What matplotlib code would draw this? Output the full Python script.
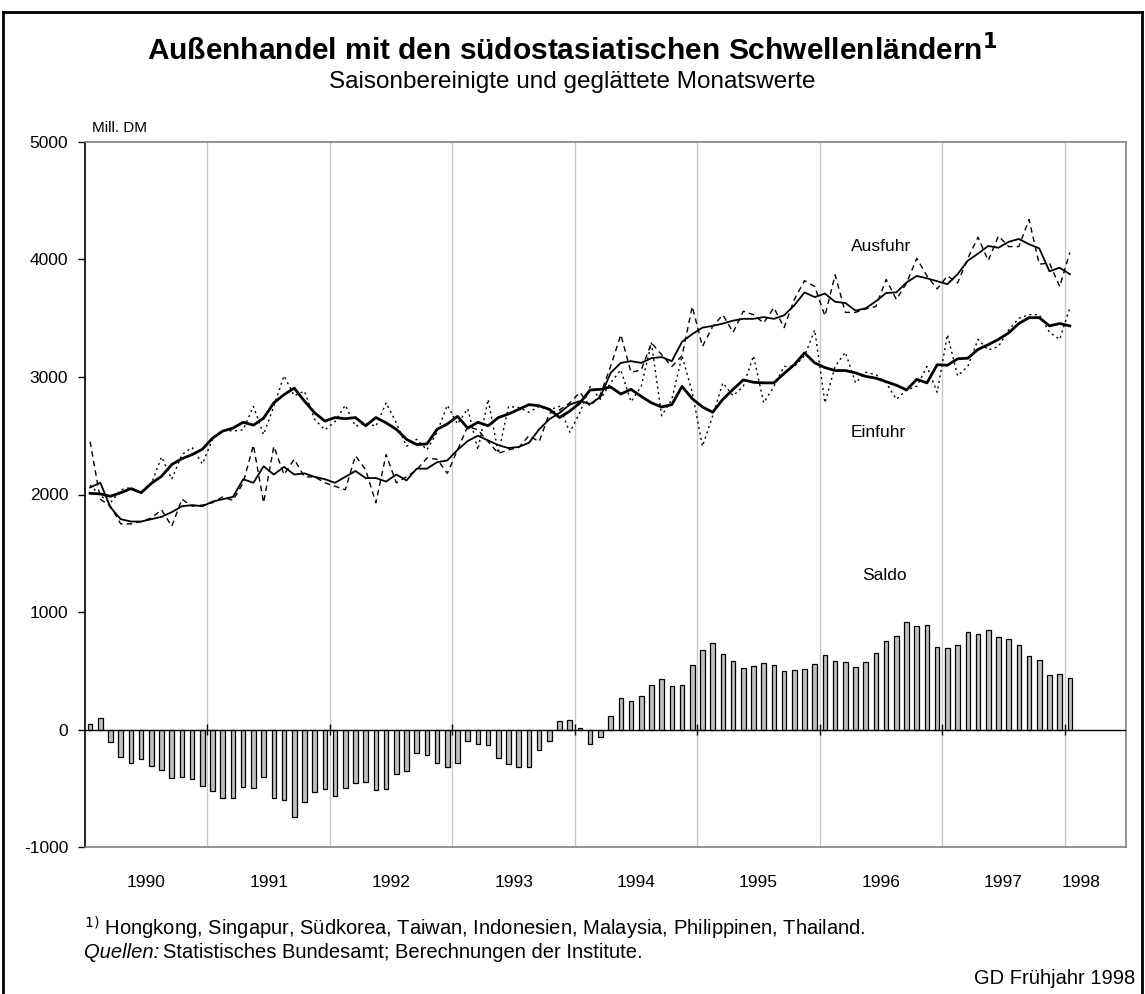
import matplotlib
matplotlib.use("Agg")
import matplotlib.pyplot as plt
import numpy as np
from matplotlib.lines import Line2D

plt.rcParams['font.family'] = ['Liberation Sans', 'DejaVu Sans']

years = [1990, 1991, 1992, 1993, 1994, 1995, 1996, 1997, 1998]

# Monthly values Jan 1990 .. Jan 1998 (Mill. DM)
ausfuhr_smooth = [2060, 2100, 1890, 1790, 1770, 1770, 1790, 1810, 1850, 1900, 1910, 1900,
                  1940, 1960, 1980, 2130, 2100, 2240, 2170, 2235, 2170, 2180, 2150, 2130,
                  2100, 2150, 2200, 2140, 2140, 2110, 2170, 2120, 2220, 2220, 2275, 2290,
                  2380, 2455, 2500, 2460, 2420, 2395, 2405, 2440, 2555, 2640, 2695, 2765,
                  2795, 2770, 2830, 3035, 3120, 3135, 3120, 3160, 3170, 3135, 3300, 3365,
                  3420, 3435, 3455, 3480, 3495, 3495, 3510, 3495, 3525, 3610, 3720, 3680,
                  3710, 3640, 3630, 3565, 3585, 3645, 3715, 3720, 3805, 3860, 3840, 3815,
                  3790, 3875, 3990, 4050, 4115, 4100, 4150, 4175, 4130, 4095, 3900, 3930,
                  3875]
einfuhr_smooth = [2010, 2005, 1985, 2015, 2050, 2015, 2095, 2155, 2255, 2305, 2340, 2385,
                  2480, 2540, 2565, 2615, 2590, 2650, 2780, 2850, 2905, 2795, 2695, 2625,
                  2655, 2645, 2655, 2585, 2655, 2610, 2555, 2470, 2425, 2430, 2555, 2600,
                  2665, 2565, 2615, 2585, 2655, 2685, 2725, 2765, 2755, 2725, 2655, 2710,
                  2780, 2890, 2895, 2915, 2855, 2895, 2835, 2780, 2745, 2765, 2920, 2815,
                  2745, 2700, 2810, 2895, 2975, 2955, 2950, 2950, 3030, 3105, 3205, 3120,
                  3080, 3055, 3055, 3035, 3005, 2990, 2960, 2930, 2890, 2980, 2950, 3105,
                  3100, 3155, 3160, 3235, 3275, 3320, 3375, 3455, 3505, 3505, 3435, 3455,
                  3435]
ausfuhr_raw = [2450, 1960, 1900, 1750, 1750, 1770, 1800, 1870, 1730, 1960, 1900, 1910,
               1930, 1980, 1950, 2100, 2420, 1930, 2410, 2170, 2300, 2150, 2150, 2100,
               2070, 2040, 2330, 2210, 1930, 2340, 2100, 2150, 2210, 2310, 2300, 2180,
               2380, 2580, 2550, 2450, 2350, 2380, 2400, 2500, 2450, 2690, 2720, 2780,
               2870, 2750, 2850, 3090, 3360, 3040, 3060, 3290, 3190, 3090, 3180, 3600,
               3260, 3430, 3530, 3380, 3560, 3530, 3460, 3590, 3420, 3660, 3820, 3770,
               3520, 3870, 3550, 3550, 3580, 3600, 3830, 3660, 3800, 4010, 3860, 3750,
               3860, 3800, 4010, 4190, 3990, 4200, 4110, 4110, 4340, 3960, 3970, 3770,
               4060]
einfuhr_raw = [2080, 1990, 1930, 2040, 2060, 2010, 2090, 2320, 2130, 2340, 2400, 2260,
               2470, 2550, 2540, 2550, 2750, 2510, 2750, 3010, 2840, 2880, 2640, 2550,
               2620, 2760, 2580, 2610, 2580, 2780, 2610, 2410, 2470, 2380, 2530, 2760,
               2600, 2730, 2380, 2810, 2350, 2750, 2740, 2700, 2750, 2720, 2750, 2530,
               2700, 2920, 2810, 2950, 3060, 2790, 2920, 3290, 2670, 2810, 3180, 2870,
               2410, 2670, 2950, 2840, 2920, 3180, 2780, 2920, 3090, 3090, 3180, 3400,
               2780, 3090, 3210, 2950, 3040, 3020, 2950, 2810, 2890, 2920, 3090, 2870,
               3360, 3010, 3090, 3320, 3230, 3260, 3400, 3500, 3530, 3530, 3380, 3320,
               3590]
saldo = [45, 94, -105, -230, -281, -247, -309, -343, -411, -406, -423, -482,
         -522, -584, -579, -488, -494, -400, -584, -601, -743, -621, -536, -505,
         -567, -499, -454, -443, -511, -508, -377, -352, -199, -218, -281, -318,
         -281, -96, -122, -133, -241, -295, -318, -318, -176, -94, 71, 82,
         11, -120, -62, 119, 267, 241, 284, 380, 426, 366, 380, 550,
         675, 735, 644, 587, 522, 539, 562, 545, 494, 505, 516, 556,
         633, 582, 576, 528, 576, 653, 752, 794, 919, 882, 888, 706,
         692, 718, 831, 817, 843, 783, 772, 718, 624, 593, 468, 474,
         440]

W, H = 1145, 994
fig = plt.figure(figsize=(W / 100, H / 100), dpi=100)
ax = fig.add_axes([85 / W, 1 - 847 / H, (1126 - 85) / W, (847 - 142) / H])

n = len(saldo)
x = np.arange(n) + 0.5

# grid lines at year boundaries
for k in range(1, len(years)):
    ax.axvline(12 * k, color='#c8c8c8', lw=1.0, zorder=0)

ax.bar(x, saldo, width=0.45, color='#c0c0c0', edgecolor='black', linewidth=0.9, zorder=2)
ax.axhline(0, color='black', lw=1.0, zorder=3)
ax.vlines([12 * k for k in range(1, len(years))], -45, 45, color='black', lw=1.0, zorder=3)

ax.plot(x, ausfuhr_raw, color='black', lw=1.0, dashes=(4, 3), zorder=4)
ax.plot(x, einfuhr_raw, color='black', lw=1.0, dashes=(1.5, 2.5), zorder=4)
ax.plot(x, ausfuhr_smooth, color='black', lw=1.3, zorder=5)
ax.plot(x, einfuhr_smooth, color='black', lw=2.0, zorder=5)

ax.set_xlim(0, 102)
ax.set_ylim(-1000, 5000)
ax.set_yticks(range(-1000, 5001, 1000))
ax.set_yticklabels([str(v) for v in range(-1000, 5001, 1000)], fontsize=12.5)
ax.tick_params(axis='y', direction='out', length=5, width=1, color='black', pad=7)
ax.set_xticks([])
for s in ['top', 'right', 'bottom']:
    ax.spines[s].set_color('#808080')
    ax.spines[s].set_linewidth(1.2)
ax.spines['left'].set_color('black')
ax.spines['left'].set_linewidth(1.2)

# year labels (mid-year)
ypos = [6, 18, 30, 42, 54, 66, 78, 90, 97.6]
for yr, xp in zip(years, ypos):
    ax.text(xp, -0.051, str(yr), transform=ax.get_xaxis_transform(), ha='center', va='center',
            fontsize=12.5)

ax.text(78.0, 4110, 'Ausfuhr', ha='center', va='center', fontsize=12.5)
ax.text(77.7, 2525, 'Einfuhr', ha='center', va='center', fontsize=12.5)
ax.text(78.3, 1310, 'Saldo', ha='center', va='center', fontsize=12.5)

fig.text(92 / W, 1 - 128 / H, 'Mill. DM', ha='left', va='center', fontsize=11)

fig.text(572 / W, 1 - 50 / H, r'Außenhandel mit den südostasiatischen Schwellenländern$^{\mathbf{1}}$',
         ha='center', va='center', fontsize=21.5, fontweight='bold')
fig.text(572 / W, 1 - 82 / H, 'Saisonbereinigte und geglättete Monatswerte',
         ha='center', va='center', fontsize=17.5)

fig.text(84 / W, 1 - 928 / H, r'$^{1)}$ Hongkong, Singapur, Südkorea, Taiwan, Indonesien, Malaysia, Philippinen, Thailand.',
         ha='left', va='center', fontsize=14.5)
t1 = fig.text(84 / W, 1 - 953 / H, 'Quellen:', ha='left', va='center', fontsize=14.5, style='italic')
fig.canvas.draw()
bb = t1.get_window_extent()
fig.text(bb.x1 / W + 4 / W, 1 - 953 / H, 'Statistisches Bundesamt; Berechnungen der Institute.',
         ha='left', va='center', fontsize=14.5)
fig.text(1135 / W, 1 - 978 / H, 'GD Frühjahr 1998', ha='right', va='center', fontsize=14.5)

# outer frame
fig.add_artist(Line2D([3 / W, 3 / W], [0, 1 - 12 / H], color='black', lw=2, transform=fig.transFigure))
fig.add_artist(Line2D([3 / W, 1142 / W], [1 - 12 / H, 1 - 12 / H], color='black', lw=2, transform=fig.transFigure))
fig.add_artist(Line2D([1142 / W, 1142 / W], [0, 1 - 12 / H], color='black', lw=2, transform=fig.transFigure))

fig.savefig('out.png', dpi=100)
